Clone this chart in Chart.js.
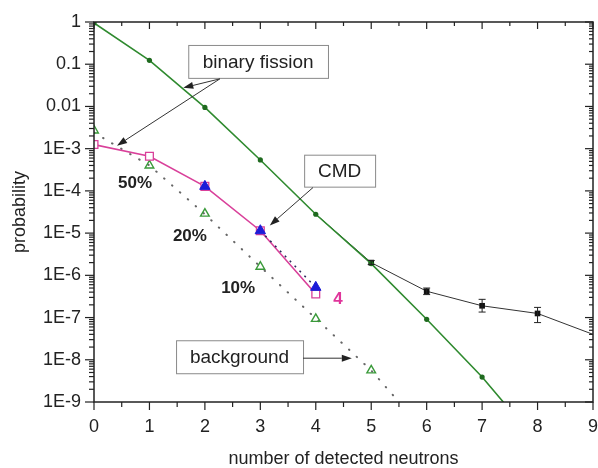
<!DOCTYPE html>
<html><head><meta charset="utf-8">
<script src="https://cdn.jsdelivr.net/npm/chart.js@4/dist/chart.umd.min.js"></script>
<style>html,body{margin:0;padding:0;background:#fff;}</style>
</head><body>
<canvas id="c" width="598" height="468"></canvas>
<script>
// ---------- data ----------
const neutronTicks = [0,1,2,3,4,5,6,7,8,9];
const yTickValues = [1e-9,1e-8,1e-7,1e-6,1e-5,1e-4,1e-3,0.01,0.1,1];
const yTickLabels = ['1E-9','1E-8','1E-7','1E-6','1E-5','1E-4','1E-3','0.01','0.1','1'];

const fissionN = [0,1,2,3,4,5,6,7,8];
const fissionP = [0.95,0.124,0.0095,5.4e-4,2.8e-5,1.9e-6,9.1e-8,3.9e-9,1.1e-10];

const measuredN = [4,5,6,7,8,9];
const measuredP = [2.8e-5,2.0e-6,4.2e-7,1.9e-7,1.25e-7,4.0e-8];
const measuredLow = [null,1.8e-6,3.5e-7,1.35e-7,7.6e-8,null];
const measuredHigh = [null,2.25e-6,5.0e-7,2.7e-7,1.74e-7,null];

const cmdN = [0,1,2,3,4];
const cmdP = [1.25e-3,6.6e-4,1.28e-4,1.14e-5,3.6e-7];

const cmdLowEffN = [2,3,4];
const cmdLowEffP = [1.28e-4,1.14e-5,5.2e-7];

const backgroundN = [0,1,2,3,4,5];
const backgroundP = [2.7e-3,4.0e-4,2.9e-5,1.6e-6,9.3e-8,5.6e-9];

const backgroundFitN = [0,1,2,3,4,5,6];
const backgroundFitP = [2.4e-3,4.0e-4,2.8e-5,1.6e-6,9.5e-8,5.6e-9,1.8e-10];

// ---------- helpers ----------
const pts = (xs, ys) => xs.map((x, i) => ({x, y: ys[i]}));
const FONT = 'Liberation Sans, Arial, sans-serif';

// annotations (anchored in data coordinates)
const boxes = [
  {text:'binary fission', x1:1.70, x2:4.22, y1:0.286, y2:0.0475},
  {text:'CMD', x1:3.79, x2:5.07, y1:7.2e-4, y2:1.26e-4},
  {text:'background', x1:1.48, x2:3.77, y1:2.9e-8, y2:4.8e-9}
];
const arrows = [
  {x1:2.27, y1:0.045, x2:1.61, y2:0.0276},
  {x1:2.27, y1:0.045, x2:0.415, y2:1.18e-3},
  {x1:3.95, y1:1.2e-4, x2:3.17, y2:1.52e-5},
  {x1:3.77, y1:1.09e-8, x2:4.65, y2:1.09e-8}
];
const notes = [
  {text:'50%', x:0.74, y:1.49e-4, color:'#222'},
  {text:'20%', x:1.73, y:8.3e-6, color:'#222'},
  {text:'10%', x:2.60, y:4.9e-7, color:'#222'},
  {text:'4', x:4.40, y:2.7e-7, color:'#e0359b'}
];

const decor = {
  id: 'decor',
  afterDatasetsDraw(chart) {
    const {ctx, scales: {x, y}} = chart;
    ctx.save();
    ctx.strokeStyle = '#222';
    ctx.lineWidth = 1;
    measuredN.forEach((n, i) => {
      if (measuredLow[i] == null) return;
      const px = x.getPixelForValue(n);
      const lo = y.getPixelForValue(measuredLow[i]);
      const hi = y.getPixelForValue(measuredHigh[i]);
      ctx.beginPath();
      ctx.moveTo(px, lo); ctx.lineTo(px, hi);
      ctx.moveTo(px - 3.5, lo); ctx.lineTo(px + 3.5, lo);
      ctx.moveTo(px - 3.5, hi); ctx.lineTo(px + 3.5, hi);
      ctx.stroke();
    });
    ctx.restore();
  },
  afterDraw(chart) {
    const {ctx, chartArea: a, scales: {x, y}} = chart;
    ctx.save();
    const line = (x1, y1, x2, y2) => { ctx.beginPath(); ctx.moveTo(x1, y1); ctx.lineTo(x2, y2); ctx.stroke(); };
    // frame
    ctx.strokeStyle = '#222';
    ctx.lineWidth = 1.5;
    ctx.strokeRect(a.left, a.top, a.right - a.left, a.bottom - a.top);
    ctx.lineWidth = 1.2;
    // x ticks
    for (let v = x.min; v <= x.max + 1e-9; v += 0.5) {
      const px = x.getPixelForValue(v);
      const major = Math.abs(v - Math.round(v)) < 1e-6;
      line(px, a.bottom, px, a.bottom + (major ? 8 : 5));
      line(px, a.top, px, a.top + (major ? 7 : 4));
    }
    // y ticks
    const eMin = Math.round(Math.log10(y.min)), eMax = Math.round(Math.log10(y.max));
    for (let e = eMin; e <= eMax; e++) {
      for (let k = 1; k <= 9; k++) {
        const v = k * Math.pow(10, e);
        if (v > y.max * 1.0001) break;
        const py = y.getPixelForValue(v);
        const major = k === 1;
        line(a.left - (major ? 9 : 5), py, a.left, py);
        line(a.right - (major ? 8 : 4), py, a.right, py);
      }
    }
    // boxes
    ctx.font = '19px ' + FONT;
    ctx.textAlign = 'center';
    ctx.textBaseline = 'middle';
    boxes.forEach(b => {
      const l = x.getPixelForValue(b.x1), r = x.getPixelForValue(b.x2);
      const t = y.getPixelForValue(b.y1), btm = y.getPixelForValue(b.y2);
      ctx.fillStyle = '#fff';
      ctx.fillRect(l, t, r - l, btm - t);
      ctx.strokeStyle = '#8a8a8a';
      ctx.lineWidth = 1;
      ctx.strokeRect(l + 0.5, t + 0.5, r - l, btm - t);
      ctx.fillStyle = '#222';
      ctx.fillText(b.text, (l + r) / 2, (t + btm) / 2 + 1);
    });
    // arrows
    ctx.strokeStyle = '#333';
    ctx.fillStyle = '#222';
    ctx.lineWidth = 1;
    arrows.forEach(ar => {
      const x1 = x.getPixelForValue(ar.x1), y1 = y.getPixelForValue(ar.y1);
      const x2 = x.getPixelForValue(ar.x2), y2 = y.getPixelForValue(ar.y2);
      const ang = Math.atan2(y2 - y1, x2 - x1);
      const L = 10, W = 3.5;
      const bx = x2 - L * Math.cos(ang), by = y2 - L * Math.sin(ang);
      line(x1, y1, bx, by);
      ctx.beginPath();
      ctx.moveTo(x2, y2);
      ctx.lineTo(bx + W * Math.sin(ang), by - W * Math.cos(ang));
      ctx.lineTo(bx - W * Math.sin(ang), by + W * Math.cos(ang));
      ctx.closePath();
      ctx.fill();
    });
    // notes
    ctx.font = 'bold 17px ' + FONT;
    notes.forEach(n => {
      ctx.fillStyle = n.color;
      ctx.fillText(n.text, x.getPixelForValue(n.x), y.getPixelForValue(n.y));
    });
    ctx.restore();
  }
};

new Chart(document.getElementById('c'), {
  type: 'line',
  data: {
    datasets: [
      {
        data: pts(cmdLowEffN, cmdLowEffP),
        showLine: true,
        borderWidth: 1.5,
        segment: {
          borderColor: c => c.p0DataIndex === 1 ? '#2a2a5a' : 'rgba(0,0,0,0)',
          borderDash: c => c.p0DataIndex === 1 ? [2, 5] : undefined
        },
        borderColor: '#2a2a5a',
        pointStyle: 'triangle', pointRadius: 6,
        pointBackgroundColor: '#1c1cd8', pointBorderColor: '#1c1cd8', pointBorderWidth: 1,
        clip: 0
      },
      {
        data: pts(cmdN, cmdP),
        borderColor: '#d9409a', borderWidth: 1.6,
        pointStyle: 'rect', pointRadius: 5.5,
        pointBackgroundColor: '#fff', pointBorderColor: '#d9409a', pointBorderWidth: 1.3,
        clip: 0
      },
      {
        data: pts(backgroundN, backgroundP),
        showLine: false,
        pointStyle: 'triangle', pointRadius: 5,
        pointBackgroundColor: 'rgba(255,255,255,0)', pointBorderColor: '#3a9a3a', pointBorderWidth: 1.4,
        clip: 0
      },
      {
        data: pts(fissionN, fissionP),
        borderColor: '#2f8a2f', borderWidth: 1.6,
        pointStyle: 'circle', pointRadius: 2.6,
        pointBackgroundColor: '#1f6a1f', pointBorderColor: '#1f6a1f', pointBorderWidth: 0,
        clip: 0
      },
      {
        data: pts(measuredN, measuredP),
        borderColor: '#333', borderWidth: 1,
        pointStyle: 'rect',
        pointRadius: c => (measuredLow[c.dataIndex] == null ? 0 : 4),
        pointBackgroundColor: '#111', pointBorderColor: '#111', pointBorderWidth: 0,
        clip: 0
      },
      {
        data: pts(backgroundFitN, backgroundFitP),
        borderColor: '#666', borderWidth: 2, borderDash: [0.5, 10], borderCapStyle: 'round',
        pointRadius: 0,
        clip: 0
      }
    ]
  },
  options: {
    responsive: false,
    animation: false,
    layout: {autoPadding: false, padding: {top: 22, right: 5, left: 0, bottom: 0}},
    plugins: {legend: {display: false}, tooltip: {enabled: false}},
    scales: {
      x: {
        type: 'linear', min: 0, max: 9,
        afterBuildTicks: s => { s.ticks = neutronTicks.map(v => ({value: v})); },
        afterFit: s => { s.height = 66; s.paddingLeft = 0; s.paddingRight = 0; },
        grid: {display: false}, border: {display: false},
        ticks: {font: {family: FONT, size: 18}, color: '#222', padding: 6, maxRotation: 0, autoSkip: false},
        title: {display: true, text: 'number of detected neutrons', color: '#222',
                font: {family: FONT, size: 18, lineHeight: 1}, padding: {top: 0, bottom: 0}}
      },
      y: {
        type: 'logarithmic', min: 1e-9, max: 1,
        afterBuildTicks: s => { s.ticks = yTickValues.map(v => ({value: v})); },
        afterFit: s => { s.width = 94; },
        grid: {display: false}, border: {display: false},
        ticks: {font: {family: FONT, size: 18}, color: '#222', padding: 5, autoSkip: false,
                callback: v => yTickLabels[yTickValues.indexOf(v)]},
        title: {display: true, text: 'probability', color: '#222',
                font: {family: FONT, size: 18, lineHeight: 1.2}, padding: {top: 9, bottom: 0}}
      }
    }
  },
  plugins: [decor]
});
</script>
</body></html>
